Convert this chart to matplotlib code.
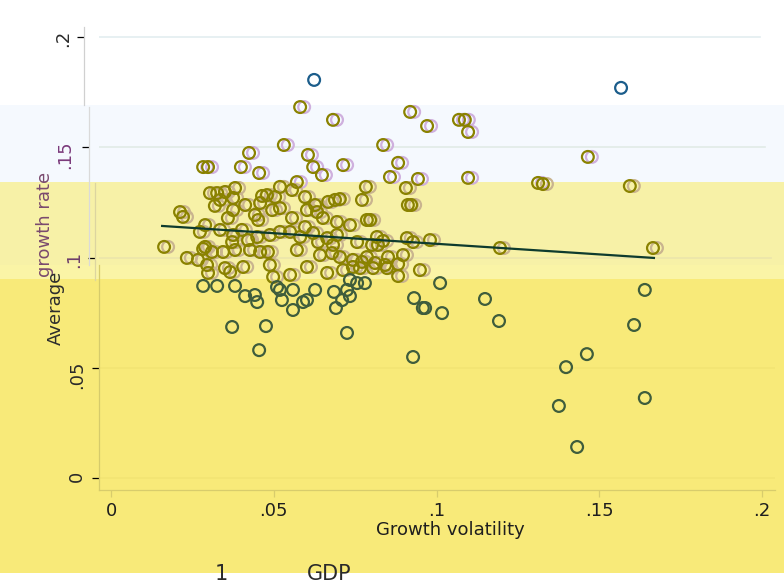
import matplotlib
matplotlib.use('Agg')
import matplotlib.pyplot as plt
from matplotlib.lines import Line2D
from matplotlib.patches import Rectangle
from matplotlib.transforms import ScaledTranslation
import numpy as np

W, H = 784, 586

# growth volatility (x) / average growth rate (y)
volatility = [
    0.0624, 0.1567,
    0.0581, 0.0682, 0.0919, 0.0971, 0.1069, 0.1087, 0.1097, 0.0531, 0.0836, 0.0424,
    0.0605, 0.1465, 0.0713, 0.0283, 0.0298, 0.0399, 0.0621, 0.0455, 0.0648, 0.0882,
    0.0857, 0.0943, 0.1097, 0.0571, 0.0519, 0.1327, 0.1312, 0.1594, 0.0783, 0.0906,
    0.0556, 0.0304, 0.0326, 0.0350, 0.0381, 0.0464, 0.0479, 0.0504, 0.0335, 0.0319,
    0.0375, 0.0412, 0.0375, 0.0359, 0.0212, 0.0221, 0.0289, 0.0273, 0.0335, 0.0442,
    0.0519, 0.0495, 0.0452, 0.0402, 0.0421, 0.0372, 0.0163, 0.0289, 0.0556, 0.0627,
    0.0667, 0.0688, 0.0703, 0.0771, 0.0786, 0.0796, 0.0458, 0.0602, 0.0633, 0.0651,
    0.0694, 0.0734, 0.0375, 0.0449, 0.0488, 0.0519, 0.0550, 0.0581, 0.0621, 0.0664,
    0.0694, 0.0756, 0.0817, 0.0836, 0.0912, 0.0922, 0.0596, 0.0596, 0.0802, 0.0820,
    0.0909, 0.0928, 0.0980, 0.1195, 0.1665, 0.0897, 0.0949, 0.0882, 0.0233, 0.0283,
    0.0310, 0.0344, 0.0381, 0.0427, 0.0458, 0.0482, 0.0571, 0.0642, 0.0679, 0.0703,
    0.0743, 0.0786, 0.0851, 0.0295, 0.0350, 0.0406, 0.0488, 0.0498, 0.0550, 0.0602,
    0.0664, 0.0713, 0.0743, 0.0765, 0.0805, 0.0848, 0.0267, 0.0298, 0.0366, 0.0771,
    0.0811, 0.0842, 0.0682, 0.0636, 0.0882,
    0.0283, 0.0326, 0.0381, 0.0412, 0.0442, 0.0449, 0.0510, 0.0519, 0.0525, 0.0559,
    0.0559, 0.0372, 0.0476, 0.0455, 0.0627, 0.0685, 0.0725, 0.0756, 0.0780, 0.0734,
    0.0590, 0.0602, 0.0710, 0.0691, 0.0931, 0.0958, 0.0965, 0.1017, 0.1011, 0.1149,
    0.0725, 0.0928, 0.1192, 0.1607, 0.1462, 0.1398, 0.1640, 0.1376, 0.1432, 0.1640,
    0.0734,
]
growth = [
    0.1805, 0.1769,
    0.1682, 0.1624, 0.1660, 0.1596, 0.1624, 0.1624, 0.1569, 0.1510, 0.1510, 0.1474,
    0.1465, 0.1456, 0.1419, 0.1410, 0.1410, 0.1410, 0.1410, 0.1383, 0.1374, 0.1429,
    0.1365, 0.1356, 0.1361, 0.1342, 0.1320, 0.1333, 0.1338, 0.1324, 0.1320, 0.1315,
    0.1306, 0.1292, 0.1292, 0.1297, 0.1315, 0.1279, 0.1283, 0.1274, 0.1261, 0.1234,
    0.1270, 0.1238, 0.1215, 0.1179, 0.1206, 0.1184, 0.1147, 0.1116, 0.1125, 0.1193,
    0.1224, 0.1215, 0.1170, 0.1125, 0.1079, 0.1070, 0.1048, 0.1048, 0.1179, 0.1238,
    0.1252, 0.1261, 0.1265, 0.1261, 0.1170, 0.1170, 0.1247, 0.1215, 0.1206, 0.1179,
    0.1161, 0.1147, 0.1102, 0.1093, 0.1102, 0.1116, 0.1116, 0.1093, 0.1111, 0.1088,
    0.1102, 0.1070, 0.1093, 0.1075, 0.1238, 0.1238, 0.1274, 0.1138, 0.1057, 0.1057,
    0.1088, 0.1070, 0.1079, 0.1043, 0.1043, 0.1011, 0.0943, 0.0970, 0.0998, 0.1039,
    0.1025, 0.1025, 0.1034, 0.1034, 0.1025, 0.1025, 0.1034, 0.1011, 0.1020, 0.1002,
    0.0989, 0.1002, 0.1002, 0.0966, 0.0952, 0.0957, 0.0966, 0.0912, 0.0921, 0.0957,
    0.0930, 0.0943, 0.0957, 0.0952, 0.0952, 0.0952, 0.0989, 0.0930, 0.0934, 0.0980,
    0.0975, 0.0966, 0.1057, 0.1070, 0.0916,
    0.0871, 0.0871, 0.0871, 0.0825, 0.0830, 0.0798, 0.0866, 0.0853, 0.0807, 0.0853,
    0.0762, 0.0685, 0.0689, 0.0580, 0.0853, 0.0844, 0.0853, 0.0884, 0.0884, 0.0898,
    0.0798, 0.0807, 0.0807, 0.0771, 0.0816, 0.0771, 0.0771, 0.0748, 0.0884, 0.0812,
    0.0658, 0.0549, 0.0712, 0.0694, 0.0562, 0.0503, 0.0363, 0.0327, 0.0141, 0.0853,
    0.0825,
]

# linear fit overlay (end points)
fit_x = [0.0157, 0.1668]
fit_y = [0.1143, 0.0998]

xticks = [0, 0.05, 0.1, 0.15, 0.2]
xtick_labels = ['0', '.05', '.1', '.15', '.2']
yticks = [0, 0.05, 0.1, 0.15, 0.2]
ytick_labels = ['0', '.05', '.1', '.15', '.2']

plt.rcParams['font.family'] = ['DejaVu Sans']

fig = plt.figure(figsize=(W / 100, H / 100), dpi=100)


def fx(px):
    return px / W


def fy(py):
    return 1 - py / H


def shift(dx):
    return ScaledTranslation(dx / 100, 0, fig.dpi_scale_trans)


# horizontal background bands (top px, bottom px, colour)
bands = [(0, 105, '#ffffff'), (105, 182, '#f5f9fe'), (182, 265, '#f7f1a7'),
         (265, 279, '#faf4a6'), (279, 573, '#f8ea79'), (573, 586, '#ffffff')]
for top, bot, c in bands:
    fig.add_artist(Rectangle((0, fy(bot)), 1, (bot - top) / H, transform=fig.transFigure,
                             facecolor=c, edgecolor='none', zorder=-10))

ax = fig.add_axes([fx(99), fy(490), fx(775) - fx(99), (490 - 25) / H])
ax.set_facecolor('none')
ax.set_xlim(-0.0037, 0.2040)
ax.set_ylim(-0.0054, 0.2054)
for s in ['top', 'right', 'left']:
    ax.spines[s].set_visible(False)
ax.spines['bottom'].set_color('#d8cc6c')
ax.spines['bottom'].set_linewidth(0.9)

ax.set_xticks(xticks, xtick_labels)
ax.set_yticks(yticks, ytick_labels)
ax.tick_params(axis='x', length=5, width=0.9, color='#d8cc6c', pad=4,
               labelsize=13, labelcolor='#1e1e1e')
ax.tick_params(axis='y', length=5, width=0.9, pad=4.5, labelsize=13,
               labelrotation=90)
ax.yaxis.grid(True, linewidth=1.2)

# the glitched copies sit a few pixels to the left in the upper bands
tick_dx = [0, 0, -4, -10, -15]
label_dx = [0, 0, -3, -12, -14]
label_col = ['#2a2a2a', '#2a2a2a', '#6e3f6a', '#7b3a7b', '#2a2a2a']
tick_col = ['#d8cc6c', '#d8cc6c', '#d9d3a0', '#d4d4d4', '#cccccc']
grid_col = ['#f3e474', '#f3e474', '#ebe5ab', '#e1ebe6', '#e3edf0']
for i, t in enumerate(ax.yaxis.get_major_ticks()):
    t.tick1line.set_transform(t.tick1line.get_transform() + shift(tick_dx[i]))
    t.tick1line.set_color(tick_col[i])
    t.gridline.set_transform(t.gridline.get_transform() + shift(tick_dx[i]))
    t.gridline.set_color(grid_col[i])
    t.label1.set_transform(t.label1.get_transform() + shift(label_dx[i]))
    t.label1.set_color(label_col[i])

# left axis line, one piece per band
for x0, y0, y1, c in [(84, 27, 105, '#d0d0d0'), (89, 107, 265, '#dadada'),
                      (95, 183, 280, '#dcd5a0'), (99, 265, 490, '#d6cb6b')]:
    fig.add_artist(Line2D([fx(x0), fx(x0)], [fy(y0), fy(y1)], transform=fig.transFigure,
                          color=c, linewidth=0.9))

# colour of each marker depends on the band it falls in
pts = np.column_stack([volatility, growth])
py = H - ax.transData.transform(pts)[:, 1]
vx = np.array(volatility)
vy = np.array(growth)
top = py < 105
blue_band = (py >= 105) & (py < 183)
yel_band = (py >= 183) & (py < 279)
low = py >= 279

ms, mw = 72, 1.6
ax.scatter(vx[top], vy[top], s=ms, facecolors='none', edgecolors='#1b5d8b',
           linewidths=mw, zorder=3)
ax.scatter(vx[blue_band], vy[blue_band], s=ms, facecolors='none', edgecolors='#cfb0de',
           linewidths=mw, zorder=2, transform=ax.transData + shift(4))
ax.scatter(vx[yel_band], vy[yel_band], s=ms, facecolors='none', edgecolors='#c9b48f',
           linewidths=mw, zorder=2, transform=ax.transData + shift(4))
ax.scatter(vx[blue_band | yel_band], vy[blue_band | yel_band], s=ms, facecolors='none',
           edgecolors='#8a8200', linewidths=mw, zorder=3)
ax.scatter(vx[low], vy[low], s=ms, facecolors='none', edgecolors='#3f5d3c',
           linewidths=mw, zorder=3)

ax.plot(fit_x, fit_y, color='#0e3b2e', linewidth=1.6, zorder=4)

# axis titles (the y title is split across two shifted copies)
fig.text(fx(450), fy(530), 'Growth volatility', ha='center', va='center',
         fontsize=13, color='#1e1e1e')
fig.text(fx(45), fy(172), 'growth rate', rotation=90, ha='center', va='top',
         fontsize=13, color='#7a4a6e')
fig.text(fx(56), fy(345), 'Average', rotation=90, ha='center', va='bottom',
         fontsize=13, color='#2d2d2d')

# stray caption fragments at the bottom edge
fig.text(fx(221), fy(580), '1', ha='center', va='baseline', fontsize=15, color='#2a2a2a')
fig.text(fx(329), fy(580), 'GDP', ha='center', va='baseline', fontsize=15, color='#2a2a2a')

fig.savefig('out.png', dpi=100)
